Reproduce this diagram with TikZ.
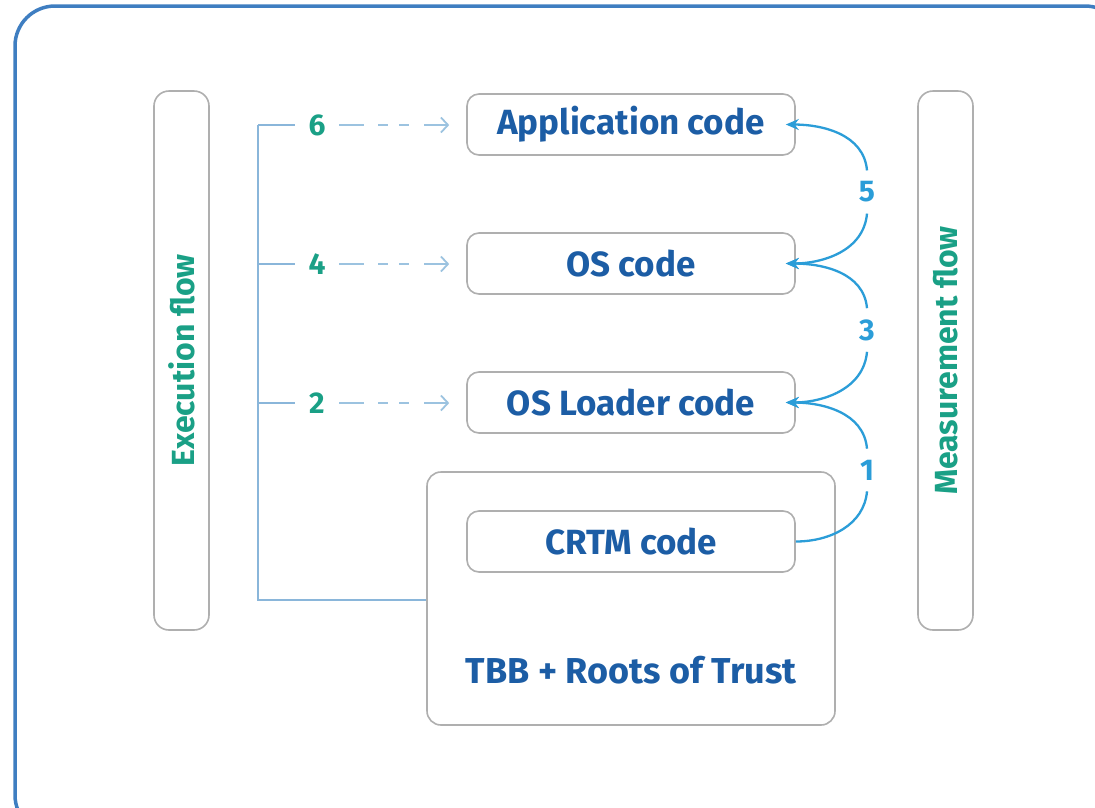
\documentclass[tikz,border=0pt]{standalone}
\usepackage{fontspec}
\setmainfont{Fira Sans}
\usetikzlibrary{arrows.meta}
\definecolor{codeblue}{HTML}{1C5DA5}
\definecolor{flowgreen}{HTML}{1AA086}
\definecolor{lineblue}{HTML}{8AB6DA}
\definecolor{dashblue}{HTML}{9CC3E0}
\definecolor{measblue}{HTML}{2B9DD8}
\definecolor{framblue}{HTML}{3F7EC1}
\definecolor{boxgray}{HTML}{AFAFAF}
\tikzset{
  codebox/.style={draw=boxgray, line width=1.6pt, rounded corners=12pt, minimum width=328pt, minimum height=61pt, inner sep=0pt, text=codeblue, font=\fontsize{35}{40}\selectfont\bfseries},
  bigbox/.style={draw=boxgray, line width=1.6pt, rounded corners=14pt, minimum width=408pt, minimum height=253pt, inner sep=0pt},
  pill/.style={draw=boxgray, line width=1.6pt, rounded corners=15pt, minimum width=539pt, minimum height=55pt, inner sep=0pt, rotate=90, text=flowgreen, font=\fontsize{32}{36}\selectfont\bfseries},
  numg/.style={text=flowgreen, font=\fontsize{30}{34}\selectfont\bfseries, minimum width=44pt, inner sep=0pt},
  numb/.style={text=measblue, font=\fontsize{30}{34}\selectfont\bfseries, inner xsep=2pt, inner ysep=11pt},
  bracket/.style={draw=lineblue, line width=1.8pt},
  dasharrow/.style={draw=dashblue, line width=1.8pt, dash pattern=on 25pt off 14pt on 10pt off 11pt on 10pt off 15pt on 40pt, -{Straight Barb[length=7pt,width=15pt,line width=1.8pt]}},
  meas/.style={draw=measblue, line width=2.3pt},
  measarrow/.style={meas, -{Stealth[length=13pt,width=11pt]}},
}
\begin{document}
\begin{tikzpicture}[x=1pt,y=-1pt]
\useasboundingbox (0,0) rectangle (1095,807);
\clip (0,0) rectangle (1095,807);
\fill[white] (0,0) rectangle (1095,807);
\draw[framblue, line width=3.5pt, rounded corners=40pt] (15,6) rectangle (1125,835);

% flow pills
\node[pill] (exec) at (181.5,360.5) {Execution flow};
\node[pill] (meas) at (945.5,360.5) {Measurement flow};

% code boxes
\node[bigbox] (tbb) at (631,598.5) {};
\node[text=codeblue, font=\fontsize{36}{40}\selectfont\bfseries] (tbbl) at (631,670) {TBB + Roots of Trust};
\node[codebox] (app) at (631,124.5) {Application code};
\node[codebox] (os) at (631,263.5) {OS code};
\node[codebox] (loader) at (631,402.5) {OS Loader code};
\node[codebox] (crtm) at (631,541.5) {CRTM code};

% execution bracket
\coordinate (b6) at (258,125);
\coordinate (b4) at (258,264);
\coordinate (b2) at (258,403);
\coordinate (bb) at (258,600);
\draw[bracket] (b6) -- (bb) -- (bb -| tbb.west);
\node[numg] (e6) at (317,125) {6};
\node[numg] (e4) at (317,264) {4};
\node[numg] (e2) at (317,403) {2};
\draw[bracket] (b6) -- (e6.west);
\draw[bracket] (b4) -- (e4.west);
\draw[bracket] (b2) -- (e2.west);
\draw[dasharrow] (e6.east) -- ([xshift=-17pt]app.west |- e6.east);
\draw[dasharrow] (e4.east) -- ([xshift=-17pt]os.west |- e4.east);
\draw[dasharrow] (e2.east) -- ([xshift=-17pt]loader.west |- e2.east);

% measurement flow
\node[numb] (m5) at (867,192) {5};
\node[numb] (m3) at (867,330) {3};
\node[numb] (m1) at (867,470) {1};
\draw[meas] (crtm.east) to[out=0,in=-95] (m1.south);
\draw[measarrow] (m1.north) to[out=95,in=0] ([xshift=-10pt]loader.east);
\draw[measarrow] (m3.south) to[out=-95,in=0] ([xshift=-10pt]loader.east);
\draw[measarrow] (m3.north) to[out=95,in=0] ([xshift=-10pt]os.east);
\draw[measarrow] (m5.south) to[out=-95,in=0] ([xshift=-10pt]os.east);
\draw[measarrow] (m5.north) to[out=95,in=0] ([xshift=-10pt]app.east);
\end{tikzpicture}
\end{document}
